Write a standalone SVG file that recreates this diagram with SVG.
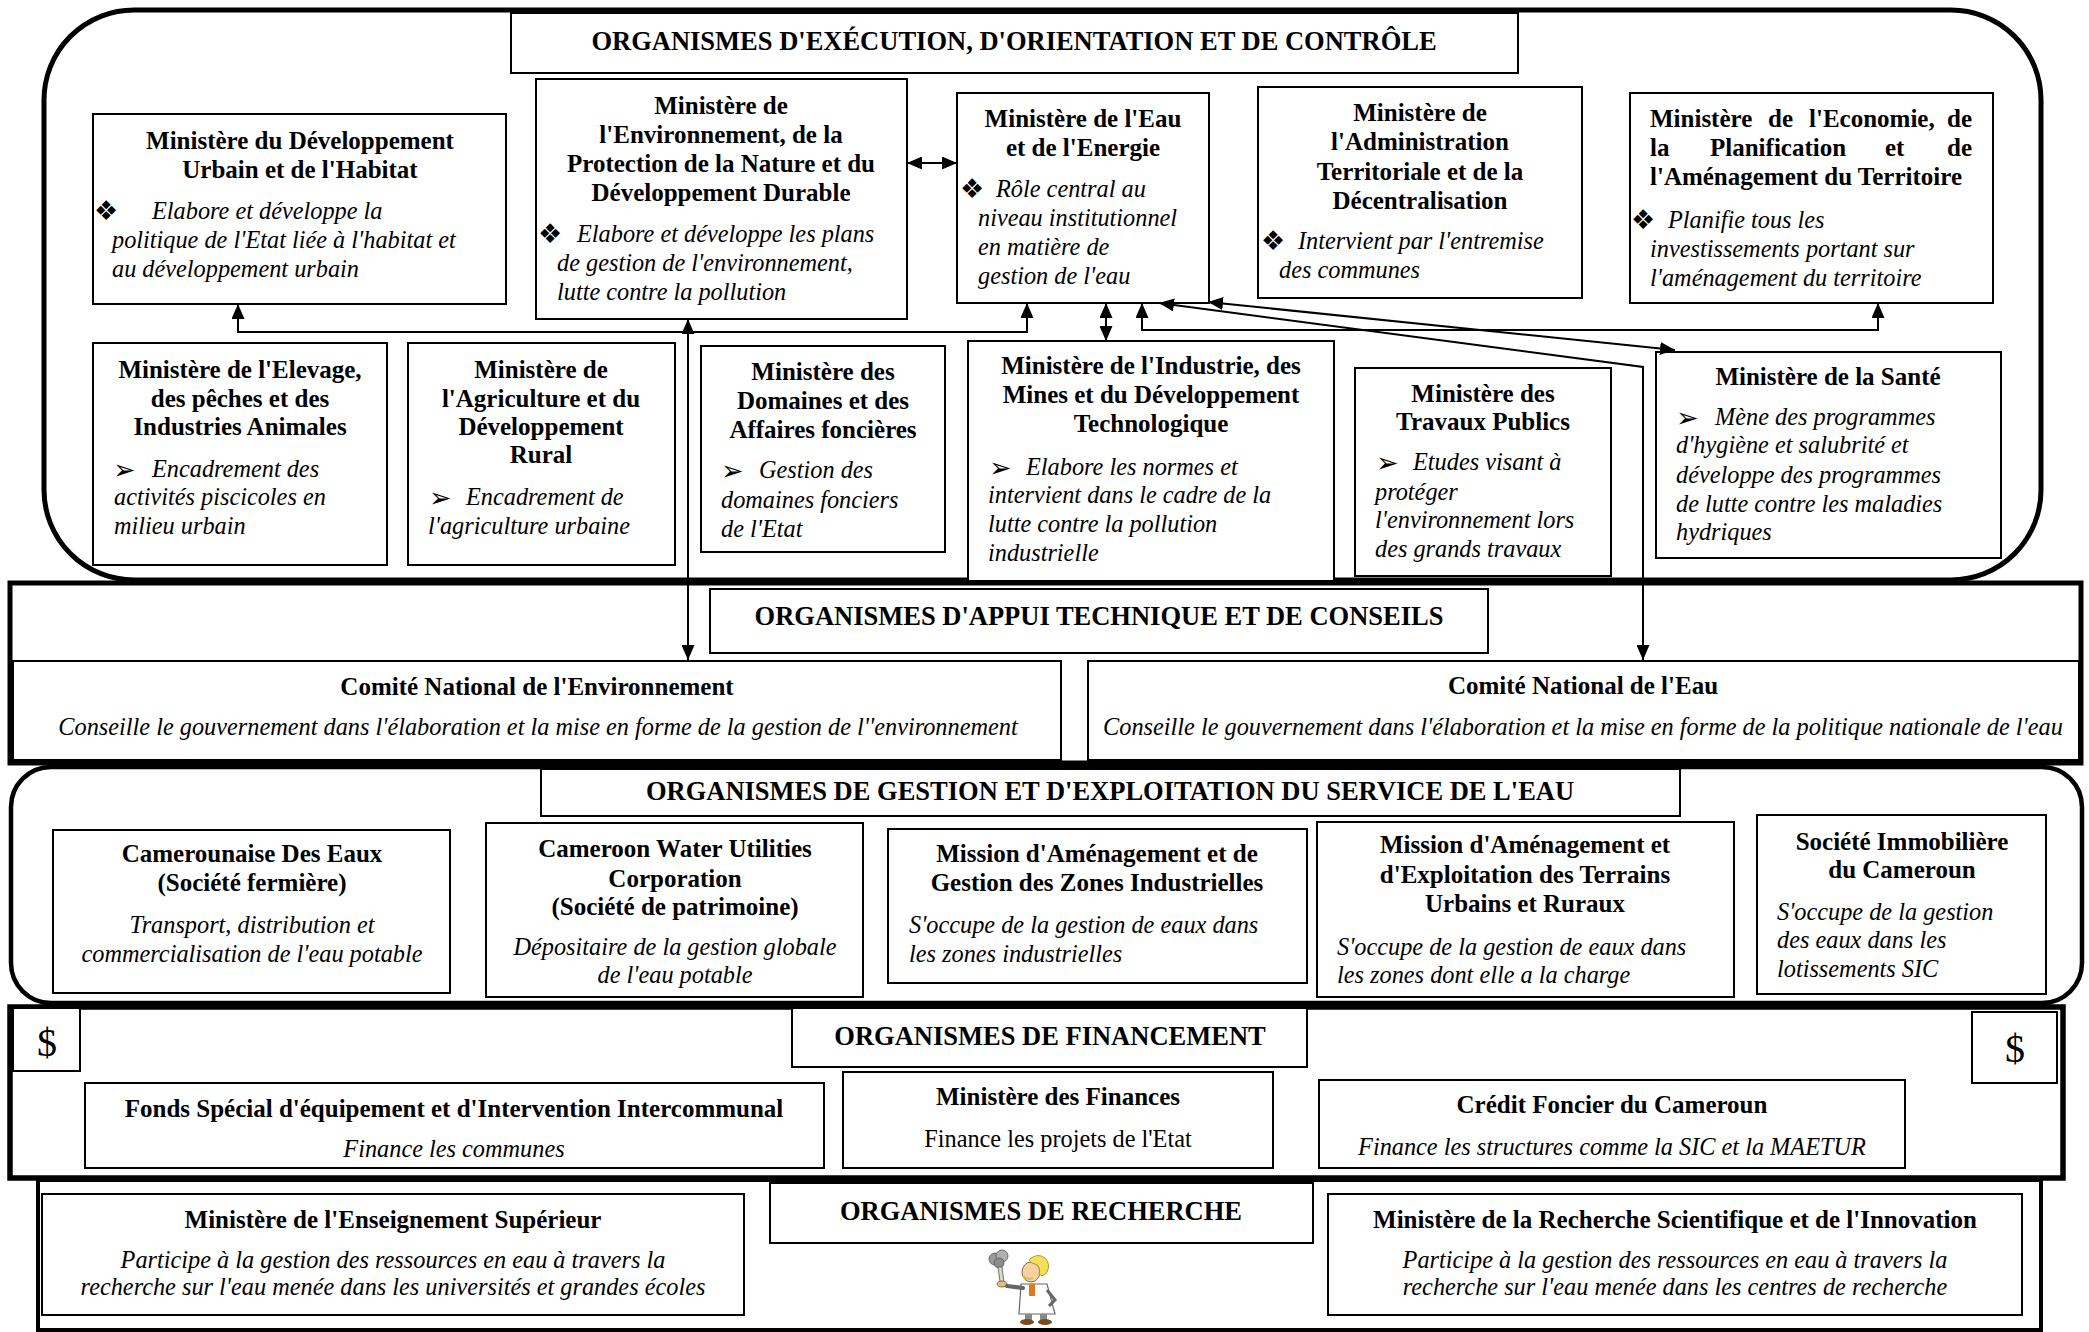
<svg xmlns="http://www.w3.org/2000/svg" width="2089" height="1332" viewBox="0 0 2089 1332">
<defs>
<style>
.frame{fill:none;stroke:#000;stroke-width:5}
.box{fill:#fff;stroke:#000;stroke-width:2}
.hd{font-family:"Liberation Serif","Times New Roman",serif;font-weight:bold;font-size:26.5px;text-anchor:middle}
.b{font-family:"Liberation Serif","Times New Roman",serif;font-weight:bold;font-size:25px}
.i{font-family:"Liberation Serif","Times New Roman",serif;font-style:italic;font-size:24.3px}
.r{font-family:"Liberation Serif","Times New Roman",serif;font-size:24.3px}
.c{text-anchor:middle}
.e{text-anchor:end}
.blt{font-family:"DejaVu Sans",sans-serif;font-size:27px}
.dol{font-family:"Liberation Serif","Times New Roman",serif;font-size:40px;text-anchor:middle}
.cn{fill:none;stroke:#000;stroke-width:2}
</style>
<marker id="ah" viewBox="0 0 15 13" refX="15" refY="6.5" markerWidth="15" markerHeight="13" markerUnits="userSpaceOnUse" orient="auto-start-reverse">
<path d="M0,0 L15,6.5 L0,13 z" fill="#000"/>
</marker>
</defs>
<rect x="0" y="0" width="2089" height="1332" fill="#fff"/>

<!-- section frames -->
<g id="frames">
<rect class="frame" x="44" y="10" width="1997" height="570" rx="90" ry="90"/>
<rect class="frame" x="10" y="583" width="2071" height="180"/>
<rect class="frame" x="11" y="767" width="2071" height="236" rx="40" ry="40" style="stroke-width:4.5"/>
<rect class="frame" x="10" y="1007" width="2053" height="171" style="stroke-width:5.5"/>
<rect class="frame" x="38" y="1180" width="2003" height="150" style="stroke-width:4"/>
</g>

<!-- execution, orientation and control bodies -->
<g id="title-execution">
<rect class="box" x="511" y="13" width="1007" height="60"/>
<text class="hd" x="1014" y="50">ORGANISMES D'EXÉCUTION, D'ORIENTATION ET DE CONTRÔLE</text>
</g>

<g id="min-habitat">
<rect class="box" x="93" y="114" width="413" height="190"/>
<text class="b c" x="300" y="149">Ministère du Développement</text>
<text class="b c" x="300" y="178">Urbain et de l'Habitat</text>
<text class="blt" x="94" y="220">❖</text>
<text class="i" x="152" y="219">Elabore et développe la</text>
<text class="i" x="112" y="248">politique de l'Etat liée à l'habitat et</text>
<text class="i" x="112" y="277">au développement urbain</text>
</g>

<g id="min-environnement">
<rect class="box" x="536" y="79" width="371" height="240"/>
<text class="b c" x="721" y="114">Ministère de</text>
<text class="b c" x="721" y="143">l'Environnement, de la</text>
<text class="b c" x="721" y="172">Protection de la Nature et du</text>
<text class="b c" x="721" y="201">Développement Durable</text>
<text class="blt" x="538" y="243">❖</text>
<text class="i" x="577" y="242">Elabore et développe les plans</text>
<text class="i" x="557" y="271">de gestion de l'environnement,</text>
<text class="i" x="557" y="300">lutte contre la pollution</text>
</g>

<g id="min-eau-energie">
<rect class="box" x="957" y="93" width="252" height="210"/>
<text class="b c" x="1083" y="127">Ministère de l'Eau</text>
<text class="b c" x="1083" y="156">et de l'Energie</text>
<text class="blt" x="960" y="198">❖</text>
<text class="i" x="996" y="197">Rôle central au</text>
<text class="i" x="978" y="226">niveau institutionnel</text>
<text class="i" x="978" y="255">en matière de</text>
<text class="i" x="978" y="284">gestion de l'eau</text>
</g>

<g id="min-administration">
<rect class="box" x="1258" y="87" width="324" height="211"/>
<text class="b c" x="1420" y="121">Ministère de</text>
<text class="b c" x="1420" y="150">l'Administration</text>
<text class="b c" x="1420" y="180">Territoriale et de la</text>
<text class="b c" x="1420" y="209">Décentralisation</text>
<text class="blt" x="1261" y="250">❖</text>
<text class="i" x="1298" y="249">Intervient par l'entremise</text>
<text class="i" x="1279" y="278">des communes</text>
</g>

<g id="min-economie">
<rect class="box" x="1630" y="93" width="363" height="210"/>
<text class="b" x="1650" y="127">Ministère</text>
<text class="b" x="1768" y="127">de</text>
<text class="b" x="1809" y="127">l'Economie,</text>
<text class="b e" x="1972" y="127">de</text>
<text class="b" x="1650" y="156">la</text>
<text class="b" x="1710" y="156">Planification</text>
<text class="b" x="1885" y="156">et</text>
<text class="b e" x="1972" y="156">de</text>
<text class="b" x="1650" y="185">l'Aménagement du Territoire</text>
<text class="blt" x="1631" y="229">❖</text>
<text class="i" x="1668" y="228">Planifie tous les</text>
<text class="i" x="1650" y="257">investissements portant sur</text>
<text class="i" x="1650" y="286">l'aménagement du territoire</text>
</g>

<g id="min-elevage">
<rect class="box" x="93" y="343" width="294" height="222"/>
<text class="b c" x="240" y="378">Ministère de l'Elevage,</text>
<text class="b c" x="240" y="407">des pêches et des</text>
<text class="b c" x="240" y="435">Industries Animales</text>
<text class="blt" x="113" y="479">➢</text>
<text class="i" x="152" y="477">Encadrement des</text>
<text class="i" x="114" y="505">activités piscicoles en</text>
<text class="i" x="114" y="534">milieu urbain</text>
</g>

<g id="min-agriculture">
<rect class="box" x="408" y="343" width="267" height="222"/>
<text class="b c" x="541" y="378">Ministère de</text>
<text class="b c" x="541" y="407">l'Agriculture et du</text>
<text class="b c" x="541" y="435">Développement</text>
<text class="b c" x="541" y="463">Rural</text>
<text class="blt" x="429" y="507">➢</text>
<text class="i" x="466" y="505">Encadrement de</text>
<text class="i" x="428" y="534">l'agriculture urbaine</text>
</g>

<g id="min-domaines">
<rect class="box" x="701" y="346" width="244" height="206"/>
<text class="b c" x="823" y="380">Ministère des</text>
<text class="b c" x="823" y="409">Domaines et des</text>
<text class="b c" x="823" y="438">Affaires foncières</text>
<text class="blt" x="721" y="480">➢</text>
<text class="i" x="759" y="478">Gestion des</text>
<text class="i" x="721" y="508">domaines fonciers</text>
<text class="i" x="721" y="537">de l'Etat</text>
</g>

<g id="min-industrie">
<rect class="box" x="968" y="341" width="366" height="240"/>
<text class="b c" x="1151" y="374">Ministère de l'Industrie, des</text>
<text class="b c" x="1151" y="403">Mines et du Développement</text>
<text class="b c" x="1151" y="432">Technologique</text>
<text class="blt" x="989" y="477">➢</text>
<text class="i" x="1026" y="475">Elabore les normes et</text>
<text class="i" x="988" y="503">intervient dans le cadre de la</text>
<text class="i" x="988" y="532">lutte contre la pollution</text>
<text class="i" x="988" y="561">industrielle</text>
</g>

<g id="min-travaux-publics">
<rect class="box" x="1355" y="368" width="256" height="208"/>
<text class="b c" x="1483" y="402">Ministère des</text>
<text class="b c" x="1483" y="430">Travaux Publics</text>
<text class="blt" x="1376" y="472">➢</text>
<text class="i" x="1413" y="470">Etudes visant à</text>
<text class="i" x="1375" y="500">protéger</text>
<text class="i" x="1375" y="528">l'environnement lors</text>
<text class="i" x="1375" y="557">des grands travaux</text>
</g>

<g id="min-sante">
<rect class="box" x="1656" y="352" width="345" height="206"/>
<text class="b c" x="1828" y="385">Ministère de la Santé</text>
<text class="blt" x="1676" y="427">➢</text>
<text class="i" x="1715" y="425">Mène des programmes</text>
<text class="i" x="1676" y="453">d'hygiène et salubrité et</text>
<text class="i" x="1676" y="483">développe des programmes</text>
<text class="i" x="1676" y="512">de lutte contre les maladies</text>
<text class="i" x="1676" y="540">hydriques</text>
</g>

<!-- technical support and advisory bodies -->
<g id="title-appui">
<rect class="box" x="710" y="589" width="778" height="64"/>
<text class="hd" x="1099" y="625">ORGANISMES D'APPUI TECHNIQUE ET DE CONSEILS</text>
</g>
<g id="comite-environnement">
<rect class="box" x="13" y="661" width="1048" height="99"/>
<text class="b c" x="537" y="695">Comité National de l'Environnement</text>
<text class="i c" x="538" y="735">Conseille le gouvernement dans l'élaboration et la mise en forme de la gestion de l''environnement</text>
</g>
<g id="comite-eau">
<rect class="box" x="1088" y="661" width="991" height="99"/>
<text class="b c" x="1583" y="694">Comité National de l'Eau</text>
<text class="i c" x="1583" y="735">Conseille le gouvernement dans l'élaboration et la mise en forme de la politique nationale de l'eau</text>
</g>

<!-- water service management and operation bodies -->
<g id="title-gestion">
<rect class="box" x="541" y="769" width="1139" height="47"/>
<text class="hd" x="1110" y="800">ORGANISMES DE GESTION ET D'EXPLOITATION DU SERVICE DE L'EAU</text>
</g>
<g id="camwater-cde">
<rect class="box" x="53" y="830" width="397" height="163"/>
<text class="b c" x="252" y="862">Camerounaise Des Eaux</text>
<text class="b c" x="252" y="891">(Société fermière)</text>
<text class="i c" x="252" y="933">Transport, distribution et</text>
<text class="i c" x="252" y="962">commercialisation de l'eau potable</text>
</g>
<g id="camwater-cwu">
<rect class="box" x="486" y="823" width="377" height="174"/>
<text class="b c" x="675" y="857">Cameroon Water Utilities</text>
<text class="b c" x="675" y="887">Corporation</text>
<text class="b c" x="675" y="915">(Société de patrimoine)</text>
<text class="i c" x="675" y="955">Dépositaire de la gestion globale</text>
<text class="i c" x="675" y="983">de l'eau potable</text>
</g>
<g id="magzi">
<rect class="box" x="888" y="829" width="419" height="154"/>
<text class="b c" x="1097" y="862">Mission d'Aménagement et de</text>
<text class="b c" x="1097" y="891">Gestion des Zones Industrielles</text>
<text class="i" x="909" y="933">S'occupe de la gestion de eaux dans</text>
<text class="i" x="909" y="962">les zones industrielles</text>
</g>
<g id="maetur">
<rect class="box" x="1317" y="822" width="417" height="175"/>
<text class="b c" x="1525" y="853">Mission d'Aménagement et</text>
<text class="b c" x="1525" y="883">d'Exploitation des Terrains</text>
<text class="b c" x="1525" y="912">Urbains et Ruraux</text>
<text class="i" x="1337" y="955">S'occupe de la gestion de eaux dans</text>
<text class="i" x="1337" y="983">les zones dont elle a la charge</text>
</g>
<g id="sic">
<rect class="box" x="1757" y="815" width="289" height="179"/>
<text class="b c" x="1902" y="850">Société Immobilière</text>
<text class="b c" x="1902" y="878">du Cameroun</text>
<text class="i" x="1777" y="920">S'occupe de la gestion</text>
<text class="i" x="1777" y="948">des eaux dans les</text>
<text class="i" x="1777" y="977">lotissements SIC</text>
</g>

<!-- funding bodies -->
<g id="dollar-left">
<rect class="box" x="13" y="1008" width="67" height="63"/>
<text class="dol" x="47" y="1056">$</text>
</g>
<g id="dollar-right">
<rect class="box" x="1972" y="1012" width="85" height="71"/>
<text class="dol" x="2015" y="1062">$</text>
</g>
<g id="title-financement">
<rect class="box" x="792" y="1008" width="515" height="59"/>
<text class="hd" x="1050" y="1045">ORGANISMES DE FINANCEMENT</text>
</g>
<g id="feicom">
<rect class="box" x="85" y="1083" width="739" height="85"/>
<text class="b c" x="454" y="1117">Fonds Spécial d'équipement et d'Intervention Intercommunal</text>
<text class="i c" x="454" y="1157">Finance les communes</text>
</g>
<g id="min-finances">
<rect class="box" x="843" y="1072" width="430" height="96"/>
<text class="b c" x="1058" y="1105">Ministère des Finances</text>
<text class="r c" x="1058" y="1147">Finance les projets de l'Etat</text>
</g>
<g id="credit-foncier">
<rect class="box" x="1319" y="1080" width="586" height="88"/>
<text class="b c" x="1612" y="1113">Crédit Foncier du Cameroun</text>
<text class="i c" x="1612" y="1155">Finance les structures comme la SIC et la MAETUR</text>
</g>

<!-- research bodies -->
<g id="min-enseignement">
<rect class="box" x="42" y="1194" width="702" height="121"/>
<text class="b c" x="393" y="1228">Ministère de l'Enseignement Supérieur</text>
<text class="i c" x="393" y="1268">Participe à la gestion des ressources en eau à travers la</text>
<text class="i c" x="393" y="1295">recherche sur l'eau menée dans les universités et grandes écoles</text>
</g>
<g id="title-recherche">
<rect class="box" x="770" y="1183" width="543" height="60"/>
<text class="hd" x="1041" y="1220">ORGANISMES DE RECHERCHE</text>
</g>
<g id="min-recherche">
<rect class="box" x="1328" y="1194" width="694" height="121"/>
<text class="b c" x="1675" y="1228">Ministère de la Recherche Scientifique et de l'Innovation</text>
<text class="i c" x="1675" y="1268">Participe à la gestion des ressources en eau à travers la</text>
<text class="i c" x="1675" y="1295">recherche sur l'eau menée dans les centres de recherche</text>
</g>

<!-- small scientist figure holding a smoking flask -->
<g id="scientist" transform="translate(985,1250)">
<circle cx="10" cy="9" r="6" fill="#9a9a9a" stroke="#555" stroke-width="0.8"/>
<circle cx="17" cy="6" r="6" fill="#b0b0b0" stroke="#555" stroke-width="0.8"/>
<circle cx="14" cy="13" r="5" fill="#8c8c8c" stroke="#555" stroke-width="0.8"/>
<path d="M13,17 L15,32 L19,32 L17,17 z" fill="#d8d8c8" stroke="#555" stroke-width="0.8"/>
<ellipse cx="17" cy="34" rx="5" ry="3" fill="#e8c070" stroke="#555" stroke-width="0.8"/>
<path d="M36,34 L62,34 L70,64 L34,64 z" fill="#fff" stroke="#666" stroke-width="1.2"/>
<path d="M38,38 L22,36" stroke="#666" stroke-width="4" stroke-linecap="round"/>
<path d="M62,40 L70,50 L64,56" fill="none" stroke="#666" stroke-width="3"/>
<ellipse cx="46" cy="22" rx="9" ry="10" fill="#f5d2a0" stroke="#6b4a2a" stroke-width="0.8"/>
<path d="M44,10 Q52,2 60,8 Q66,14 62,22 Q58,28 54,24 Q56,16 50,14 Q46,14 44,10 z" fill="#f2e05a" stroke="#9a8520" stroke-width="0.8"/>
<path d="M38,26 Q42,30 48,28" fill="none" stroke="#d9c24a" stroke-width="2"/>
<rect x="44" y="34" width="6" height="12" fill="#e07a1f"/>
<rect x="40" y="64" width="7" height="6" fill="#888"/>
<rect x="55" y="64" width="7" height="6" fill="#888"/>
<ellipse cx="42" cy="72" rx="7" ry="3" fill="#7a4a20"/>
<ellipse cx="60" cy="72" rx="7" ry="3" fill="#7a4a20"/>
</g>

<!-- connectors -->
<g id="connectors">
<path class="cn" d="M238,304 V332 H1027 V303" marker-start="url(#ah)" marker-end="url(#ah)"/>
<path class="cn" d="M688,319 V660" marker-start="url(#ah)" marker-end="url(#ah)"/>
<path class="cn" d="M907,163 H957" marker-start="url(#ah)" marker-end="url(#ah)"/>
<path class="cn" d="M1106,303 V341" marker-start="url(#ah)" marker-end="url(#ah)"/>
<path class="cn" d="M1142,303 V330 H1878 V303" marker-start="url(#ah)" marker-end="url(#ah)"/>
<path class="cn" d="M1208,302 L1675,350" marker-start="url(#ah)" marker-end="url(#ah)"/>
<path class="cn" d="M1159,303 L1643,367 V660" marker-start="url(#ah)" marker-end="url(#ah)"/>
</g>
</svg>
